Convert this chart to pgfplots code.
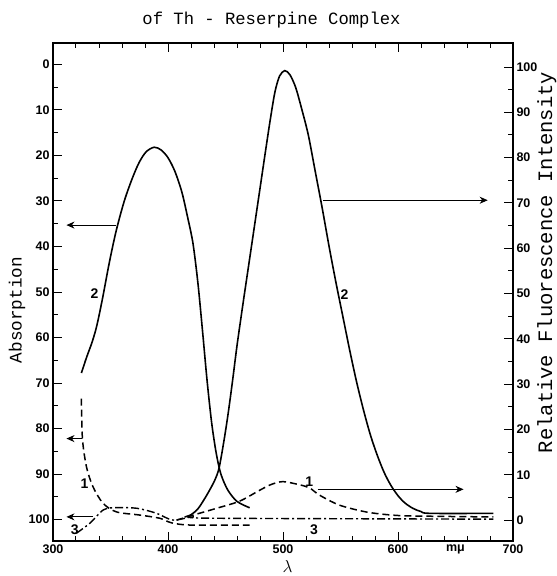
\documentclass[border=0pt]{standalone}
\usepackage{fontspec}
\usepackage{pgfplots}
\pgfplotsset{compat=1.18}
\usetikzlibrary{arrows.meta}
\newfontfamily\monof{Liberation Mono}
\newfontfamily\sansf{Liberation Sans}
\tikzset{
  sol/.style={black, line width=1.6pt, smooth},
  dsh/.style={black, line width=1.5pt, smooth, dash pattern=on 7pt off 4pt},
  dd/.style={black, line width=1.4pt, smooth, dash pattern=on 8pt off 3pt on 2pt off 3pt},
  arr/.style={black, line width=0.9pt, -{Stealth[length=8pt,width=7pt,inset=2.5pt]}},
  lab/.style={font=\sansf\bfseries\fontsize{14}{14}\selectfont, inner sep=0pt},
}
\pgfplotsset{
  common/.style={
    at={(53pt,35pt)}, anchor=south west,
    scale only axis, width=460pt, height=498pt,
    xmin=300, xmax=700,
    tick align=inside,
    major tick length=9pt, minor tick length=5pt,
    every tick/.style={black, line width=1pt},
    ticklabel style={font=\sansf\bfseries\fontsize{12.5}{12.5}\selectfont},
    /pgf/number format/assume math mode=true,
    axis line style={line width=1.5pt},
    clip=false,
  },
}
\begin{document}
\begin{tikzpicture}
\path[use as bounding box] (0,0) rectangle (557pt,576pt);
% ---- absorption axis (left, reversed)
\begin{axis}[common,
  y dir=reverse, ymin=-4.7, ymax=104.7,
  xtick={300,400,500,600,700}, minor x tick num=4,
  extra x ticks={650}, extra x tick labels={mμ},
  extra x tick style={major tick length=0pt},
  xtick pos=both, xticklabel pos=lower,
  ytick={0,10,...,100}, minor y tick num=1, ytick pos=left,
]
% curve 2 (absorption)
\addplot[sol] coordinates {(324.7,67.8) (329,64.5) (334,61) (338,57.5) (343,51.5) (349,43.5) (355,36.5) (362,30) (369,25) (375,21.5) (381,19.2) (388,18.2) (394,18.8) (400,20.5) (406,23.5) (412,28) (417,33.5) (421.7,39.3) (426,48) (430,58.5) (434,69.5) (438,78.8) (442,85.5) (446,90) (452,93.5) (460,96) (471,97.4)};
% curve 1 (absorption)
\addplot[dsh] coordinates {(324.7,73.4) (325.6,82.2) (329.1,88.4) (334.8,92.8) (343.5,96.4) (355.1,98.3) (375.4,99) (392.8,99.7) (403,100.7) (420,101.2) (471,101.2)};
% curve 3 (absorption)
\addplot[dd] coordinates {(320.3,103) (332,100.8) (343.5,97.9) (352.2,97.4) (372.5,97.5) (389.9,98.6) (404.3,100.1) (421.7,99.4) (440,99.7) (683,99.9)};
% arrows to the absorption scale
\addplot[arr] coordinates {(355,35.3) (311.7,35.3)};
\addplot[arr] coordinates {(325.6,82.2) (311.7,82.2)};
\addplot[arr] coordinates {(334.8,99.4) (311.7,99.4)};
\node[lab] at (axis cs:336,50.4) {2};
\node[lab] at (axis cs:327.5,92) {1};
\node[lab] at (axis cs:318.9,102.2) {3};
\node[lab] at (axis cs:527,102.2) {3};
\end{axis}
% ---- fluorescence axis (right)
\begin{axis}[common,
  ymin=-4.6, ymax=105.3,
  axis x line=none, axis y line*=right,
  ytick={0,10,...,100}, minor y tick num=1,
]
% curve 2 (fluorescence)
\addplot[sol] coordinates {(414.5,0.7) (420,1.2) (426,2.5) (432,4.8) (437,7) (441,9) (444.3,11.4) (448,16.5) (452,23) (456,30.5) (460,38.5) (465,47.4) (470,56) (475,64.6) (480,73.2) (485,81.8) (489,88.5) (493,94.5) (497,98) (501.5,99.2) (506,98.3) (511,95.5) (516,91) (522,85) (528,77) (534,69) (540,60.5) (546,52.5) (552,45) (558,37.5) (564,30.5) (570,24.3) (576,18.8) (582,14.3) (588,10.5) (594,7.6) (600,5.4) (606,3.8) (613,2.6) (620,1.9) (628,1.5) (683,1.5)};
% curve 1 (fluorescence)
\addplot[dsh] coordinates {(407.3,0) (421.7,1.1) (442,2.6) (462.3,4.2) (479.7,6.6) (490,7.9) (500,8.5) (514.5,7.8) (523.2,7.1) (531.9,5.5) (549.3,3.3) (572.5,1.8) (595.7,1.1) (618.8,0.9) (683,0.7)};
% arrows to the fluorescence scale
\addplot[arr] coordinates {(535,70.6) (678,70.6)};
\addplot[arr] coordinates {(530,6.8) (657,6.8)};
\node[lab] at (axis cs:553.5,49.7) {2};
\node[lab] at (axis cs:522.9,8.6) {1};
\end{axis}
% titles and axis labels
\node[font=\monof\fontsize{17.2}{17.2}\selectfont, anchor=base, inner sep=0pt] at (271.5pt,551pt) {of Th - Reserpine Complex};
\node[font=\monof\fontsize{17.7}{17.7}\selectfont, anchor=base, rotate=90, inner sep=0pt] at (21.7pt,266pt) {Absorption};
\node[font=\monof\fontsize{20.5}{20.5}\selectfont, anchor=base, rotate=90, inner sep=0pt] at (552pt,313.5pt) {Relative Fluorescence Intensity};
\node[font=\fontsize{17}{17}\selectfont, anchor=south, inner sep=0pt] at (287.5pt,3pt) {$\lambda$};
\end{tikzpicture}
\end{document}
